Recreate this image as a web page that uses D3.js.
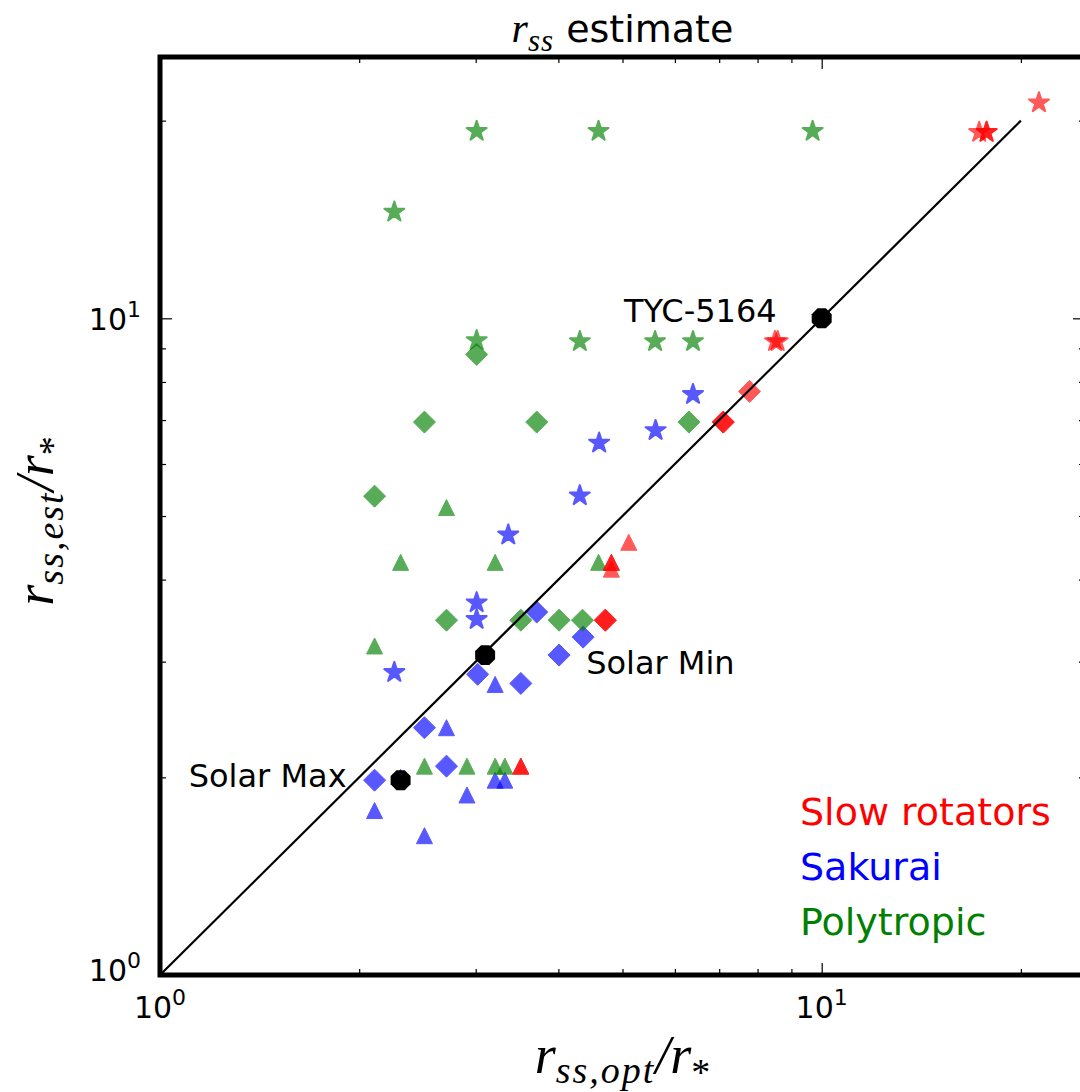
<!DOCTYPE html>
<html>
<head>
<meta charset="utf-8">
<script src="https://cdn.jsdelivr.net/npm/d3@7"></script>
<style>
  body { margin: 0; background: #fff; }
  svg { display: block; }
  .tick-lbl { font-family: "DejaVu Sans", sans-serif; fill: #000; }
  .note { font-family: "DejaVu Sans", sans-serif; font-size: 32px; fill: #000; }
  .legend { font-family: "DejaVu Sans", sans-serif; font-size: 38px; }
  .math { font-family: "Liberation Serif", serif; font-style: italic; fill: #000; }
</style>
</head>
<body>
<div id="chart"></div>
<script>
// values, [r_ss,opt, r_ss,est]
const slowStars     = [[21.3, 21.3], [17.3, 19.2], [17.75, 19.2], [17.75, 19.2], [8.5, 9.22], [8.58, 9.22]];
const slowDiamonds  = [[7.78, 7.74], [7.1, 6.95], [7.1, 6.95], [4.71, 3.47], [4.71, 3.47]];
const slowTriangles = [[5.11, 4.56], [4.81, 4.25], [4.81, 4.25], [4.81, 4.15], [3.51, 2.08], [3.51, 2.08]];

const sakStars     = [[6.39, 7.66], [5.61, 6.75], [4.61, 6.46], [4.31, 5.37], [3.36, 4.68], [3.01, 3.69], [3.01, 3.48], [2.26, 2.89]];
const sakDiamonds  = [[3.71, 3.57], [4.36, 3.27], [4.01, 3.07], [3.02, 2.87], [3.51, 2.78], [2.51, 2.38], [2.71, 2.08], [2.11, 1.98]];
const sakTriangles = [[3.21, 2.77], [2.71, 2.38], [2.31, 2.0], [2.11, 1.78], [2.51, 1.63], [2.91, 1.88], [3.21, 1.98], [3.32, 1.98]];

const polyStars     = [[3.01, 19.27], [4.6, 19.27], [9.69, 19.27], [2.26, 14.52], [3.01, 9.25], [4.31, 9.22], [5.6, 9.22], [6.39, 9.22]];
const polyDiamonds  = [[3.01, 8.81], [2.51, 6.95], [3.71, 6.95], [6.3, 6.95], [2.11, 5.36], [2.71, 3.47], [3.51, 3.47], [4.01, 3.47], [4.35, 3.47]];
const polyTriangles = [[2.71, 5.15], [2.31, 4.25], [3.21, 4.25], [4.6, 4.25], [2.11, 3.17], [2.51, 2.08], [2.91, 2.08], [3.21, 2.08], [3.32, 2.08]];

const refNames  = ["Solar Max", "Solar Min", "TYC-5164"];
const refPoints = [[2.31, 1.98], [3.1, 3.07], [10, 10]];

const oneToOne = [1, 20];
const majorTicks = [1, 10];
const minorTicks = [2, 3, 4, 5, 6, 7, 8, 9, 20];
const legendNames = ["Slow rotators", "Sakurai", "Polytropic"];
const legendColors = ["#ff0000", "#0000ff", "#008000"];

const width = 1080, height = 1092;
const margins = {left: 160, right: -5, top: 57, bottom: 117};

const svg = d3.select("#chart").append("svg")
    .attr("width", width)
    .attr("height", height);

svg.append("rect").attr("width", width).attr("height", height).attr("fill", "#fff");

const X_SCALE = d3.scaleLog().domain([1, 25]).range([margins.left, width - margins.right]);
const Y_SCALE = d3.scaleLog().domain([1, 25]).range([height - margins.bottom, margins.top]);

// marker shapes (centred on 0,0)
function starPath(R) {
    let pts = [];
    for (let i = 0; i < 10; i++) {
        let r = i % 2 == 0 ? R : R * 0.381966;
        let a = -Math.PI / 2 + i * Math.PI / 5;
        pts.push([r * Math.cos(a), r * Math.sin(a)]);
    }
    return "M" + pts.map(p => p.join(",")).join("L") + "Z";
}
function diamondPath(h) {
    return `M0,${-h}L${h},0L0,${h}L${-h},0Z`;
}
function trianglePath(h) {
    return `M0,${-h}L${h},${h}L${-h},${h}Z`;
}
function octagonPath(R) {
    let pts = [];
    for (let i = 0; i < 8; i++) {
        let a = Math.PI / 8 + i * Math.PI / 4;
        pts.push([R * Math.cos(a), R * Math.sin(a)]);
    }
    return "M" + pts.map(p => p.join(",")).join("L") + "Z";
}

const shapes = {star: starPath(10.5), diamond: diamondPath(11), triangle: trianglePath(8)};

// plotting order: Sakurai, Polytropic, slow rotators
const series = [
    {data: sakStars, shape: "star", color: legendColors[1]},
    {data: sakDiamonds, shape: "diamond", color: legendColors[1]},
    {data: sakTriangles, shape: "triangle", color: legendColors[1]},
    {data: polyStars, shape: "star", color: legendColors[2]},
    {data: polyDiamonds, shape: "diamond", color: legendColors[2]},
    {data: polyTriangles, shape: "triangle", color: legendColors[2]},
    {data: slowStars, shape: "star", color: legendColors[0]},
    {data: slowDiamonds, shape: "diamond", color: legendColors[0]},
    {data: slowTriangles, shape: "triangle", color: legendColors[0]}
];

const plot = svg.append("g");
series.forEach(s => {
    plot.append("g")
        .selectAll("path")
        .data(s.data)
        .enter()
        .append("path")
            .attr("d", shapes[s.shape])
            .attr("transform", d => "translate(" + X_SCALE(d[0]) + "," + Y_SCALE(d[1]) + ")")
            .attr("fill", s.color)
            .attr("stroke", s.color)
            .attr("stroke-width", s.shape == "star" ? 2 : 1)
            .attr("stroke-linejoin", "round")
            .attr("opacity", 0.65);
});

// one-to-one line
svg.append("path")
    .datum(oneToOne)
    .attr("d", d3.line().x(d => X_SCALE(d)).y(d => Y_SCALE(d)))
    .attr("stroke", "#000")
    .attr("stroke-width", 2.2)
    .attr("fill", "none");

// reference stars
svg.append("g")
    .selectAll("path")
    .data(refPoints)
    .enter()
    .append("path")
        .attr("d", octagonPath(10.8))
        .attr("transform", d => "translate(" + X_SCALE(d[0]) + "," + Y_SCALE(d[1]) + ")")
        .attr("fill", "#000");

// annotation offsets in pixels from each reference point
const noteOffsets = [[-54, 7, "end"], [101, 19, "start"], [-45, 4, "end"]];
svg.append("g")
    .selectAll("text")
    .data(refPoints)
    .enter()
    .append("text")
        .attr("class", "note")
        .attr("x", (d, i) => X_SCALE(d[0]) + noteOffsets[i][0])
        .attr("y", (d, i) => Y_SCALE(d[1]) + noteOffsets[i][1])
        .attr("text-anchor", (d, i) => noteOffsets[i][2])
        .text((d, i) => refNames[i]);

// ticks on all four sides, pointing inward
const x0 = X_SCALE.range()[0], x1 = X_SCALE.range()[1];
const y0 = Y_SCALE.range()[0], y1 = Y_SCALE.range()[1];
function tickAxis(gen, scale, vals, len, tx, ty) {
    svg.append("g")
        .attr("transform", "translate(" + tx + "," + ty + ")")
        .call(gen(scale).tickValues(vals).tickSize(-len).tickFormat(""))
        .call(g => g.select(".domain").remove())
        .call(g => g.selectAll("line").attr("stroke", "#000").attr("stroke-width", 1.2));
}
tickAxis(d3.axisBottom, X_SCALE, majorTicks, 12, 0, y0);
tickAxis(d3.axisBottom, X_SCALE, minorTicks, 6, 0, y0);
tickAxis(d3.axisTop, X_SCALE, majorTicks, 12, 0, y1);
tickAxis(d3.axisTop, X_SCALE, minorTicks, 6, 0, y1);
tickAxis(d3.axisLeft, Y_SCALE, majorTicks, 12, x0, 0);
tickAxis(d3.axisLeft, Y_SCALE, minorTicks, 6, x0, 0);
tickAxis(d3.axisRight, Y_SCALE, majorTicks, 12, x1, 0);
tickAxis(d3.axisRight, Y_SCALE, minorTicks, 6, x1, 0);

// frame
svg.append("rect")
    .attr("x", x0).attr("y", y1)
    .attr("width", x1 - x0).attr("height", y0 - y1)
    .attr("fill", "none")
    .attr("stroke", "#000")
    .attr("stroke-width", 5);

// tick labels 10^n
function powLabel(sel) {
    sel.append("tspan").attr("font-size", "30px").text("10");
    sel.append("tspan").attr("font-size", "22px").attr("dy", -13).text(d => Math.round(Math.log10(d)));
}
svg.append("g")
    .selectAll("text")
    .data(majorTicks)
    .enter()
    .append("text")
        .attr("class", "tick-lbl")
        .attr("x", d => X_SCALE(d))
        .attr("y", y0 + 43)
        .attr("text-anchor", "middle")
        .call(powLabel);
svg.append("g")
    .selectAll("text")
    .data(majorTicks)
    .enter()
    .append("text")
        .attr("class", "tick-lbl")
        .attr("x", x0 - 19)
        .attr("y", d => Y_SCALE(d) + (d == 1 ? 6 : 12))
        .attr("text-anchor", "end")
        .call(powLabel);

// title
const title = svg.append("text")
    .attr("x", (x0 + x1) / 2)
    .attr("y", 42)
    .attr("text-anchor", "middle");
title.append("tspan").attr("class", "math").attr("font-size", "42px").text("r");
title.append("tspan").attr("class", "math").attr("font-size", "31px").attr("dy", 9).attr("letter-spacing", "1px").text("ss");
title.append("tspan").attr("font-family", "DejaVu Sans").attr("font-size", "38px").attr("dy", -9).text(" estimate");

// axis labels
function ratioLabel(sel, sub) {
    sel.append("tspan").attr("font-size", "54px").text("r");
    sel.append("tspan").attr("font-size", "38px").attr("dy", 10).attr("letter-spacing", "2px").text(sub);
    sel.append("tspan").attr("font-size", "54px").attr("dy", -10).text("/r");
    sel.append("tspan").attr("font-size", "38px").attr("dy", 12).attr("font-style", "normal").text("*");
}
svg.append("text")
    .attr("class", "math")
    .attr("x", (x0 + x1) / 2)
    .attr("y", 1073)
    .attr("text-anchor", "middle")
    .call(ratioLabel, "ss,opt");
svg.append("text")
    .attr("class", "math")
    .attr("transform", "translate(53," + ((y0 + y1) / 2 + 5) + ") rotate(-90)")
    .attr("text-anchor", "middle")
    .call(ratioLabel, "ss,est");

// legend text
svg.append("g")
    .selectAll("text")
    .data(legendNames)
    .enter()
    .append("text")
        .attr("class", "legend")
        .attr("x", 800)
        .attr("y", (d, i) => 825 + i * 55)
        .attr("fill", (d, i) => legendColors[i])
        .text(d => d);
</script>
</body>
</html>
